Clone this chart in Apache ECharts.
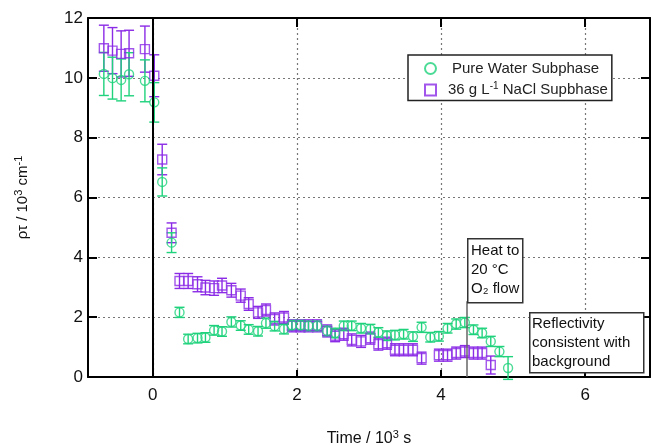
<!DOCTYPE html>
<html><head><meta charset="utf-8">
<script src="https://cdn.jsdelivr.net/npm/echarts@6/dist/echarts.min.js"></script>
<style>html,body{margin:0;padding:0;background:#fff}#c{width:651px;height:446px}</style>
</head><body><div id="c"></div>
<script>
const xTicks = [0, 2, 4, 6];
const waterName = 'Pure Water Subphase';
const saltName = '36 g L-1 NaCl Supbhase';

const waterTime = [-0.68,-0.56,-0.44,-0.33,-0.11,0.02,0.13,0.26,0.37,0.49,0.62,0.73,0.85,0.96,1.09,1.22,1.33,1.46,1.57,1.69,1.82,1.93,2.05,2.16,2.28,2.42,2.53,2.65,2.76,2.89,3.02,3.13,3.25,3.36,3.48,3.61,3.73,3.85,3.97,4.09,4.21,4.33,4.45,4.57,4.69,4.81,4.93];
const waterRho = [10.13,9.99,9.93,10.12,9.90,9.18,6.52,4.49,2.16,1.27,1.30,1.32,1.56,1.52,1.84,1.72,1.59,1.53,1.80,1.70,1.60,1.73,1.73,1.71,1.71,1.54,1.47,1.71,1.71,1.63,1.60,1.49,1.38,1.40,1.43,1.35,1.66,1.33,1.36,1.63,1.77,1.82,1.58,1.47,1.19,0.85,0.30];
const waterErr = [0.72,0.70,0.70,0.72,0.70,0.66,0.47,0.33,0.17,0.16,0.16,0.16,0.16,0.16,0.17,0.16,0.16,0.16,0.17,0.16,0.16,0.16,0.16,0.16,0.16,0.16,0.16,0.16,0.16,0.16,0.16,0.16,0.16,0.16,0.16,0.16,0.17,0.16,0.16,0.16,0.17,0.17,0.16,0.16,0.17,0.17,0.38];

const saltTime = [-0.68,-0.56,-0.44,-0.33,-0.11,0.02,0.13,0.26,0.37,0.49,0.62,0.73,0.85,0.96,1.09,1.22,1.33,1.46,1.57,1.69,1.82,1.93,2.05,2.16,2.28,2.42,2.53,2.65,2.76,2.89,3.02,3.13,3.25,3.36,3.48,3.61,3.73,3.97,4.09,4.21,4.33,4.45,4.57,4.69];
const saltRho = [10.99,10.91,10.80,10.82,10.96,10.07,7.27,4.82,3.21,3.21,3.10,2.99,2.97,3.06,2.90,2.72,2.44,2.16,2.24,1.94,1.99,1.71,1.71,1.71,1.71,1.54,1.38,1.43,1.24,1.19,1.30,1.10,1.13,0.91,0.91,0.91,0.63,0.73,0.73,0.80,0.85,0.80,0.80,0.40];
const saltErr = [0.77,0.77,0.77,0.77,0.77,0.70,0.51,0.33,0.25,0.25,0.25,0.24,0.24,0.24,0.23,0.22,0.21,0.20,0.20,0.20,0.20,0.20,0.20,0.20,0.20,0.20,0.20,0.20,0.20,0.20,0.20,0.20,0.20,0.20,0.20,0.20,0.20,0.20,0.20,0.20,0.20,0.20,0.20,0.30];

const heatTime = 4.35;
const heatTop = 2.53;

const GREEN = '#1fd27c';
const PURPLE = '#8b2be6';

function pts(t, v) { return t.map((x, i) => [x, v[i]]); }
function errs(t, v, e) { return t.map((x, i) => [x, v[i] - e[i], v[i] + e[i]]); }

function errRender(color) {
  return function (params, api) {
    const x = api.value(0), lo = api.value(1), hi = api.value(2);
    const p1 = api.coord([x, lo]), p2 = api.coord([x, hi]);
    const w = 5;
    const style = { stroke: color, lineWidth: 1.4 };
    return { type: 'group', children: [
      { type: 'line', shape: { x1: p1[0], y1: p1[1], x2: p2[0], y2: p2[1] }, style },
      { type: 'line', shape: { x1: p1[0] - w, y1: p1[1], x2: p1[0] + w, y2: p1[1] }, style },
      { type: 'line', shape: { x1: p2[0] - w, y1: p2[1], x2: p2[0] + w, y2: p2[1] }, style }
    ]};
  };
}

const FONT = '"Liberation Sans", Arial, sans-serif';
const chart = echarts.init(document.getElementById('c'), null, { renderer: 'canvas' });

const axisLine = { show: true, onZero: false, lineStyle: { color: '#000', width: 2 } };

chart.setOption({
  animation: false,
  backgroundColor: '#fff',
  textStyle: { fontFamily: FONT },
  grid: { left: 88, right: 1, top: 18, bottom: 69, show: false, outerBoundsMode: 'none', containLabel: false },
  legend: {
    left: 408, top: 55, orient: 'vertical',
    borderColor: '#222', borderWidth: 1.5, backgroundColor: '#fff',
    padding: [6, 4, 3, 16], itemGap: 5, itemWidth: 11, itemHeight: 11,
    data: [{ name: waterName, icon: 'circle' }, { name: saltName, icon: 'rect' }],
    formatter: function (name) {
      if (name === saltName) return '{g|}{t|36 g L}{s|-1}{t| NaCl Supbhase}';
      return '{h|}{t|' + name + '}';
    },
    textStyle: {
      color: '#222', fontFamily: FONT,
      rich: {
        h: { width: 11 },
        g: { width: 7 },
        t: { fontSize: 15, lineHeight: 18, color: '#222', fontFamily: FONT },
        s: { fontSize: 10, lineHeight: 9, verticalAlign: 'top', color: '#222', fontFamily: FONT }
      }
    }
  },
  xAxis: [{
    type: 'value', min: -0.9, max: 6.9, position: 'bottom',
    axisLine: axisLine,
    axisTick: { show: true, inside: true, length: 7, customValues: xTicks, lineStyle: { color: '#000', width: 2 } },
    axisLabel: { customValues: xTicks, fontSize: 17, color: '#111', margin: 10, fontFamily: FONT },
    splitLine: { show: true, lineStyle: { type: [2, 3], color: '#777', width: 1.2 } },
    name: '{t|Time / 10}{s|3}{t| s}', nameLocation: 'middle', nameGap: 52,
    nameTextStyle: { rich: {
      t: { fontSize: 16, lineHeight: 20, color: '#111', fontFamily: FONT },
      s: { fontSize: 11, lineHeight: 10, verticalAlign: 'top', color: '#111', fontFamily: FONT }
    } }
  }, {
    type: 'value', min: -0.9, max: 6.9, position: 'top',
    axisLine: axisLine,
    axisTick: { show: true, inside: true, length: 9, customValues: xTicks, lineStyle: { color: '#000', width: 2 } },
    axisLabel: { show: false },
    splitLine: { show: false }
  }],
  yAxis: [{
    type: 'value', min: 0, max: 12, interval: 2, position: 'left',
    axisLine: axisLine,
    axisTick: { show: true, inside: true, length: 9, lineStyle: { color: '#000', width: 2 } },
    axisLabel: { fontSize: 17, color: '#111', margin: 5, fontFamily: FONT },
    splitLine: { show: true, lineStyle: { type: [2, 3], color: '#777', width: 1.2 } },
    name: '{t|ρτ / 10}{s|3}{t| cm}{s|-1}', nameLocation: 'middle', nameGap: 55, nameRotate: 90,
    nameTextStyle: { rich: {
      t: { fontSize: 15, lineHeight: 20, color: '#111', fontFamily: FONT },
      s: { fontSize: 11, lineHeight: 10, verticalAlign: 'top', color: '#111', fontFamily: FONT }
    } }
  }, {
    type: 'value', min: 0, max: 12, interval: 2, position: 'right',
    axisLine: axisLine,
    axisTick: { show: true, inside: true, length: 9, lineStyle: { color: '#000', width: 2 } },
    axisLabel: { show: false },
    splitLine: { show: false }
  }],
  series: [
    {
      type: 'custom', name: 'saltErr', renderItem: errRender(PURPLE),
      data: errs(saltTime, saltRho, saltErr), encode: { x: 0, y: [1, 2] }, clip: false, z: 3,
      silent: true
    },
    {
      type: 'custom', name: 'waterErr', renderItem: errRender(GREEN),
      data: errs(waterTime, waterRho, waterErr), encode: { x: 0, y: [1, 2] }, clip: false, z: 3,
      silent: true
    },
    {
      type: 'scatter', name: saltName, symbol: 'rect', symbolSize: 9,
      data: pts(saltTime, saltRho), z: 4,
      itemStyle: { color: 'rgba(255,255,255,0)', borderColor: PURPLE, borderWidth: 1.4 }
    },
    {
      type: 'scatter', name: waterName, symbol: 'circle', symbolSize: 9,
      data: pts(waterTime, waterRho), z: 4,
      itemStyle: { color: 'rgba(255,255,255,0)', borderColor: GREEN, borderWidth: 1.4 },
      markLine: {
        silent: true, symbol: 'none', label: { show: false },
        data: [
          { xAxis: 0, lineStyle: { color: '#000', width: 2, type: 'solid' } },
          [{ coord: [heatTime, 0], lineStyle: { color: '#666', width: 1.5, type: 'solid' } }, { coord: [heatTime, heatTop] }]
        ]
      }
    }
  ],
  graphic: [
    { type: 'rect', left: 467, top: 238, z: 100, shape: { width: 55, height: 64 }, style: { fill: '#fff', stroke: '#333', lineWidth: 1.5 } },
    { type: 'text', left: 471, top: 241, z: 101, style: { text: 'Heat to\n20 °C\nO₂ flow', font: '15px ' + FONT, fill: '#111', lineHeight: 19 } },
    { type: 'rect', left: 529, top: 312, z: 100, shape: { width: 114, height: 60 }, style: { fill: '#fff', stroke: '#333', lineWidth: 1.5 } },
    { type: 'text', left: 532, top: 314, z: 101, style: { text: 'Reflectivity\nconsistent with\nbackground', font: '15px ' + FONT, fill: '#111', lineHeight: 19 } }
  ]
});
</script>
</body></html>
